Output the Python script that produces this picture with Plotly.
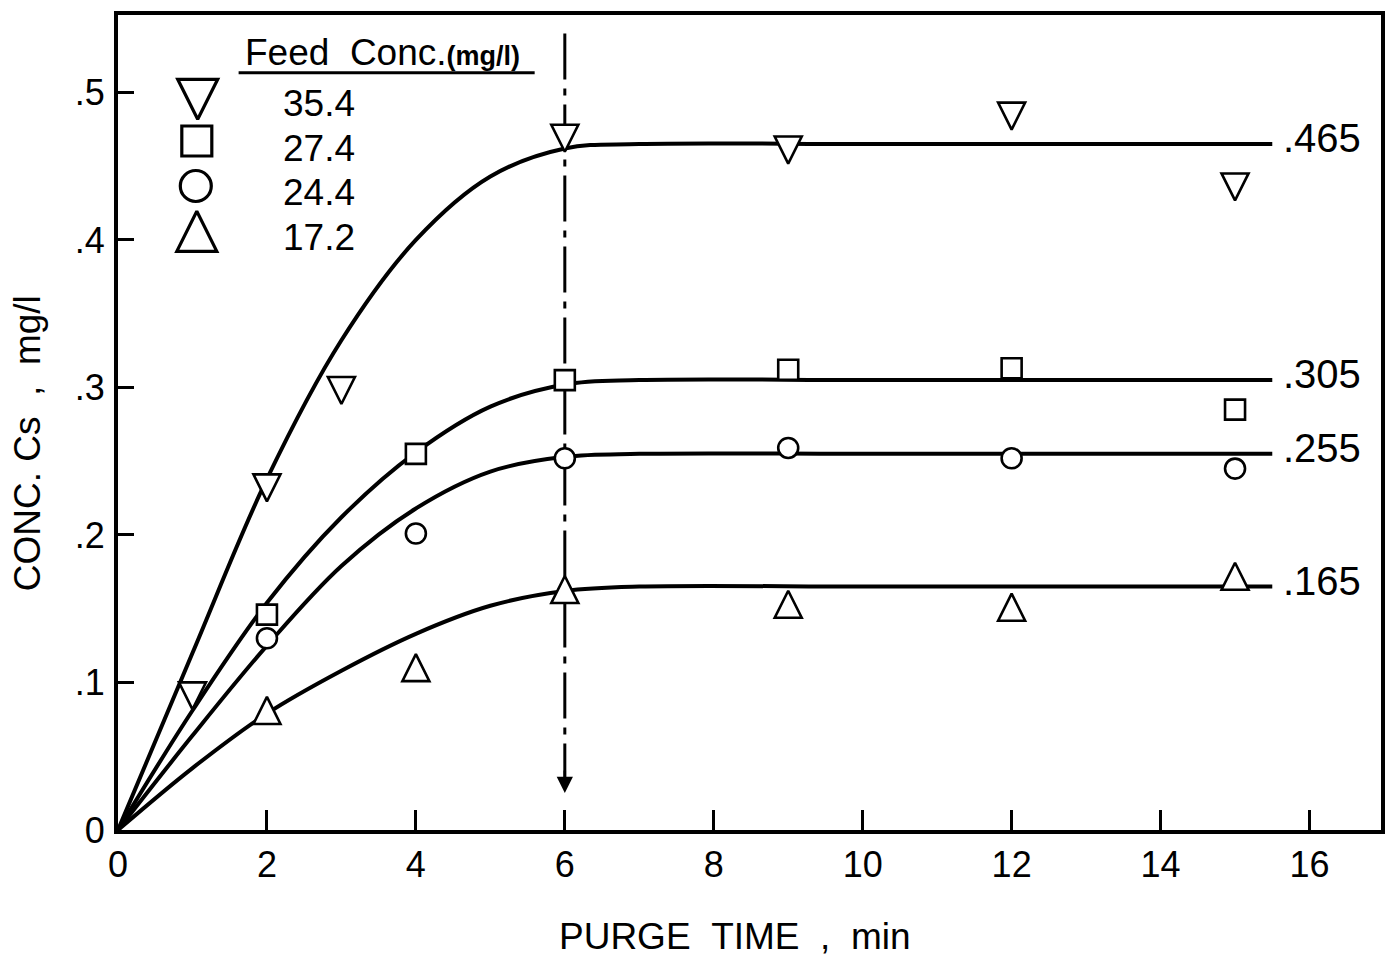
import plotly.graph_objects as go

# ---- measured data: purge time (min) vs. concentration Cs (mg/l) ----
FEED_LABELS = ["35.4", "27.4", "24.4", "17.2"]

TIME_354 = [1, 2, 3, 6, 9, 12, 15]
CONC_354 = [0.094, 0.235, 0.301, 0.472, 0.464, 0.487, 0.439]

TIME_274 = [2, 4, 6, 9, 12, 15]
CONC_274 = [0.146, 0.255, 0.305, 0.312, 0.313, 0.285]

TIME_244 = [2, 4, 6, 9, 12, 15]
CONC_244 = [0.130, 0.201, 0.252, 0.259, 0.252, 0.245]

TIME_172 = [2, 4, 6, 9, 12, 15]
CONC_172 = [0.078, 0.107, 0.160, 0.150, 0.148, 0.169]

# ---- hand-fitted saturation curves ----
FIT_T = [0, 1, 2, 3, 4, 5, 6, 7, 10, 13, 15.5]
FIT_C_354 = [0, 0.120, 0.238, 0.332, 0.400, 0.443, 0.462, 0.465, 0.465, 0.465, 0.465]
FIT_C_274 = [0, 0.081, 0.154, 0.212, 0.256, 0.287, 0.302, 0.305, 0.305, 0.305, 0.305]
FIT_C_244 = [0, 0.064, 0.125, 0.179, 0.218, 0.243, 0.253, 0.255, 0.255, 0.255, 0.255]
FIT_C_172 = [0, 0.042, 0.079, 0.108, 0.133, 0.152, 0.162, 0.165, 0.165, 0.165, 0.165]

PLATEAU = [0.465, 0.305, 0.255, 0.165]
SATURATION_TIME = 6

X_TICKS = [0, 2, 4, 6, 8, 10, 12, 14, 16]
Y_TICKS = [0, 0.1, 0.2, 0.3, 0.4, 0.5]


def frac_label(v):
    return "0" if v == 0 else f"{v:g}".lstrip("0")


FONT = "Liberation Sans, Arial, sans-serif"
INK = "black"
NB = "\u00a0"

series = [
    (TIME_354, CONC_354, FIT_C_354, "down"),
    (TIME_274, CONC_274, FIT_C_274, "square"),
    (TIME_244, CONC_244, FIT_C_244, "circle"),
    (TIME_172, CONC_172, FIT_C_172, "up"),
]


def marker_style(kind, size, lw):
    """Open markers; triangles are built from arrow symbols so they are
    equal in width and height and centred on their centroid."""
    m = dict(size=size, color="white", line=dict(color=INK, width=lw))
    if kind == "down":
        m.update(symbol="arrow-down", angle=0, standoff=2 * size / 3)
    elif kind == "up":
        m.update(symbol="arrow-down", angle=180, standoff=2 * size / 3)
    elif kind == "square":
        m.update(symbol="square")
    else:
        m.update(symbol="circle")
    return m


PLOT_SIZE = {"down": 27, "up": 27, "square": 20, "circle": 20}
KEY_SIZE = {"down": 40, "up": 40, "square": 30, "circle": 31}

fig = go.Figure()

# fitted curves
for t, c, fc, kind in series:
    fig.add_trace(go.Scatter(
        x=FIT_T, y=fc, mode="lines",
        line=dict(color=INK, width=4, shape="spline", smoothing=1.0),
        hoverinfo="skip", showlegend=False,
    ))

# data points
for t, c, fc, kind in series:
    fig.add_trace(go.Scatter(
        x=t, y=c, mode="markers",
        marker=marker_style(kind, PLOT_SIZE[kind], 2.6),
        showlegend=False,
    ))

# key symbols on an overlay axis pair spanning the plot area (0..1)
KEY_X = [0.0631, 0.0624, 0.0616, 0.0624]
KEY_Y = [0.9047, 0.8454, 0.7902, 0.7264]
for (t, c, fc, kind), kx, ky in zip(series, KEY_X, KEY_Y):
    fig.add_trace(go.Scatter(
        x=[kx], y=[ky], xaxis="x2", yaxis="y2", mode="markers",
        marker=marker_style(kind, KEY_SIZE[kind], 3.2),
        showlegend=False, hoverinfo="skip",
    ))

annotations = []
# key labels
KEY_TEXT_Y = [0.8908, 0.8368, 0.7816, 0.7276]
for lab, ky in zip(FEED_LABELS, KEY_TEXT_Y):
    annotations.append(dict(
        x=0.1287, y=ky, xref="paper", yref="paper", text=lab,
        showarrow=False, xanchor="left", yanchor="middle",
        font=dict(size=37, color=INK, family=FONT),
    ))
annotations.append(dict(
    x=0.0987, y=0.9534, xref="paper", yref="paper",
    text=f"Feed{NB}{NB}Conc.<span style='font-size:27px;font-weight:bold'>(mg/l)</span>",
    showarrow=False, xanchor="left", yanchor="middle",
    font=dict(size=37, color=INK, family=FONT),
))

# plateau value labels at the end of each curve
for fc, p in zip([FIT_C_354, FIT_C_274, FIT_C_244, FIT_C_172], PLATEAU):
    annotations.append(dict(
        x=FIT_T[-1], y=p, xref="x", yref="y", text=frac_label(p),
        showarrow=False, xanchor="left", yanchor="middle", xshift=9, yshift=6,
        font=dict(size=40, color=INK, family=FONT),
    ))

# arrow head on the saturation-time marker line
annotations.append(dict(
    x=SATURATION_TIME, y=0.025, xref="x", yref="y", text="",
    showarrow=True, ax=0, ay=-24, arrowhead=2, arrowsize=1.3,
    arrowwidth=2.5, arrowcolor=INK,
))

# axis titles
annotations.append(dict(
    x=0.4886, y=-0.131, xref="paper", yref="paper",
    text=f"PURGE{NB}{NB}TIME{NB}{NB},{NB}{NB}min",
    showarrow=False, xanchor="center", yanchor="middle",
    font=dict(size=37, color=INK, family=FONT),
))
annotations.append(dict(
    x=-0.071, y=0.475, xref="paper", yref="paper",
    text=f"CONC.{NB}Cs{NB}{NB},{NB}{NB}mg/l", textangle=-90,
    showarrow=False, xanchor="center", yanchor="middle",
    font=dict(size=37, color=INK, family=FONT),
))

shapes = [
    # vertical dash-dot line at the saturation time
    dict(type="line", xref="x", yref="y", x0=SATURATION_TIME, x1=SATURATION_TIME,
         y0=0.540, y1=0.035, layer="below",
         line=dict(color=INK, width=3, dash="46px,9px,7px,9px")),
    # underline of the key heading
    dict(type="line", xref="paper", yref="paper", x0=0.0955, x1=0.3299,
         y0=0.929, y1=0.929, line=dict(color=INK, width=3)),
]

fig.update_layout(
    width=1387, height=961,
    margin=dict(l=118, r=2, t=15, b=131),
    paper_bgcolor="white", plot_bgcolor="white",
    font=dict(family=FONT, color=INK),
    showlegend=False,
    annotations=annotations,
    shapes=shapes,
    xaxis=dict(
        range=[0, 16.96], tickvals=X_TICKS, ticktext=[str(v) for v in X_TICKS],
        ticks="inside", ticklen=20, tickwidth=3, tickcolor=INK,
        showline=True, linewidth=4, linecolor=INK, mirror=True,
        showgrid=False, zeroline=False,
        tickfont=dict(size=36, color=INK, family=FONT), ticklabelstandoff=0,
    ),
    yaxis=dict(
        range=[0, 0.5525], tickvals=Y_TICKS, ticktext=[frac_label(v) for v in Y_TICKS],
        ticks="inside", ticklen=16, tickwidth=3, tickcolor=INK,
        showline=True, linewidth=4, linecolor=INK, mirror=True,
        showgrid=False, zeroline=False,
        tickfont=dict(size=36, color=INK, family=FONT), ticklabelstandoff=2,
    ),
    xaxis2=dict(overlaying="x", range=[0, 1], visible=False, domain=[0, 1]),
    yaxis2=dict(overlaying="y", range=[0, 1], visible=False, domain=[0, 1]),
)

fig.write_html("out.html")
